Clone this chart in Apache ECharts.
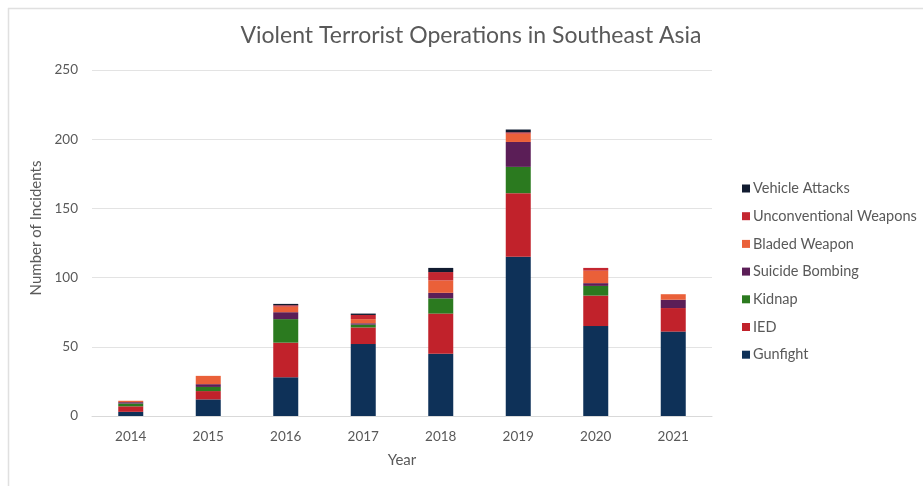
<!DOCTYPE html>
<html>
<head>
<meta charset="utf-8">
<script src="https://cdn.jsdelivr.net/npm/echarts@6/dist/echarts.min.js"></script>
<style>
  html, body { margin: 0; padding: 0; background: #fff; }
  #chart { width: 923px; height: 486px; }
</style>
</head>
<body>
<div id="chart"></div>
<script>
  // years on the x axis
  var years = ['2014', '2015', '2016', '2017', '2018', '2019', '2020', '2021'];

  // incidents per type (bottom of stack first)
  var gunfight      = [3, 12, 28, 52, 45, 115, 65, 61];
  var ied           = [4, 6, 25, 12, 29, 46, 22, 17];
  var kidnap        = [2, 3, 17, 2, 11, 19, 7, 0];
  var suicide       = [1, 2, 5, 1, 4, 18, 2, 6];
  var bladed        = [1, 6, 4, 3, 9, 6, 9, 4];
  var unconventional = [0, 0, 1, 3, 6, 1, 2, 0];
  var vehicle       = [0, 0, 1, 1, 3, 2, 0, 0];

  var seriesNames = ['Gunfight', 'IED', 'Kidnap', 'Suicide Bombing', 'Bladed Weapon', 'Unconventional Weapons', 'Vehicle Attacks'];
  var seriesData = [gunfight, ied, kidnap, suicide, bladed, unconventional, vehicle];
  var colors = ['#0e3158', '#c1222b', '#2b7a1f', '#5b1e57', '#ea6039', '#c42630', '#111b30'];

  var grayText = '#595959';
  var font = 'Lato';

  var series = [];
  for (var i = 0; i < seriesNames.length; i++) {
    series.push({
      name: seriesNames[i],
      type: 'bar',
      stack: 'total',
      barWidth: 25,
      itemStyle: { color: colors[i] },
      data: seriesData[i]
    });
  }

  var chart = echarts.init(document.getElementById('chart'));
  var option = {
    animation: false,
    textStyle: { fontFamily: font },
    title: {
      text: 'Violent Terrorist Operations in Southeast Asia',
      left: 466,
      textAlign: 'center',
      top: 19,
      textStyle: { fontFamily: font, fontWeight: 'normal', fontSize: 23, color: grayText }
    },
    legend: {
      orient: 'vertical',
      left: 737,
      top: 176,
      itemWidth: 8,
      itemHeight: 8,
      itemGap: 12.7,
      icon: 'rect',
      data: seriesNames.slice().reverse(),
      textStyle: { fontFamily: font, fontSize: 14.5, color: grayText, lineHeight: 15, padding: [0, 0, 0, -2] }
    },
    grid: { left: 92, right: 211, top: 70, bottom: 70 },
    xAxis: {
      type: 'category',
      data: years,
      name: 'Year',
      nameLocation: 'middle',
      nameGap: 37,
      nameTextStyle: { fontFamily: font, fontSize: 15, color: grayText },
      axisLine: { lineStyle: { color: '#d9d9d9' } },
      axisTick: { show: false },
      axisLabel: { fontFamily: font, fontSize: 13.5, color: grayText, margin: 14 }
    },
    yAxis: {
      type: 'value',
      min: 0,
      max: 250,
      interval: 50,
      name: 'Number of Incidents',
      nameLocation: 'middle',
      nameGap: 46,
      nameTextStyle: { fontFamily: font, fontSize: 15, color: grayText, padding: [0, 0, 0, 30] },
      axisLine: { show: false },
      axisTick: { show: false },
      axisLabel: { fontFamily: font, fontSize: 13.5, color: grayText, margin: 14 },
      splitLine: { lineStyle: { color: '#e3e3e3' } }
    },
    graphic: [
      { type: 'line', shape: { x1: 8, y1: 8.5, x2: 923, y2: 8.5 }, style: { stroke: '#e0e0e0', lineWidth: 1.5 } },
      { type: 'line', shape: { x1: 8.5, y1: 8, x2: 8.5, y2: 486 }, style: { stroke: '#e0e0e0', lineWidth: 1.5 } }
    ],
    series: series
  };
  chart.setOption(option);
</script>
</body>
</html>
